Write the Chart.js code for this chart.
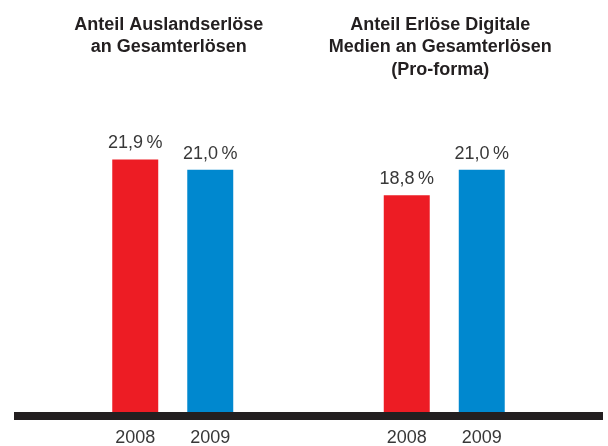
<!DOCTYPE html>
<html lang="de">

<head>
    <meta charset="UTF-8">
    <script src="https://cdn.jsdelivr.net/npm/chart.js"></script>
    <title>Anteil Erlöse</title>
    <style>
        body { margin: 0; background: #fff; }
        #box { position: relative; width: 608px; height: 446px; }
    </style>
</head>

<body>
    <div id="box"><canvas id="anteile"></canvas></div>

    <script>
        // panel titles (one per group)
        var panels = [
            ['Anteil Auslandserlöse', 'an Gesamterlösen'],
            ['Anteil Erlöse Digitale', 'Medien an Gesamterlösen', '(Pro-forma)']
        ];
        var years = ['2008', '2009'];
        // share in percent, per panel
        var values2008 = [21.9, 18.8];
        var values2009 = [21.0, 21.0];

        var ink = '#231f20';

        function fmt(v) {
            return v.toFixed(1).replace('.', ',') + '\u2009%';
        }

        // titles, value labels, year labels and the thick baseline
        var decor = {
            id: 'decor',
            afterDatasetsDraw: function (chart) {
                var ctx = chart.ctx;
                var x = chart.scales.x;
                var y0 = chart.scales.y.getPixelForValue(0);
                ctx.save();

                // baseline
                ctx.fillStyle = ink;
                ctx.fillRect(14, y0, chart.width - 19, 8);

                ctx.textAlign = 'center';
                ctx.textBaseline = 'middle';

                // titles
                ctx.font = 'bold 18px "Liberation Sans", Arial, sans-serif';
                ctx.fillStyle = ink;
                panels.forEach(function (lines, i) {
                    var cx = x.getPixelForValue(i) - 4;
                    lines.forEach(function (t, j) {
                        ctx.fillText(t, cx, 25 + j * 22.5);
                    });
                });

                // value and year labels
                ctx.font = '18px "Liberation Sans", Arial, sans-serif';
                ctx.fillStyle = '#383838';
                chart.data.datasets.forEach(function (ds, di) {
                    chart.getDatasetMeta(di).data.forEach(function (bar, i) {
                        ctx.fillText(fmt(ds.data[i]), bar.x, bar.y - 16);
                        ctx.fillText(ds.label, bar.x, y0 + 26);
                    });
                });
                ctx.restore();
            }
        };

        var context = document.getElementById('anteile').getContext('2d');
        var anteileChart = new Chart(context, {
            type: 'bar',
            data: {
                labels: panels.map(function (p) { return p.join(' '); }),
                datasets: [
                    {
                        label: years[0],
                        data: values2008,
                        backgroundColor: '#ed1c24',
                        barPercentage: 0.613,
                        categoryPercentage: 0.5525
                    },
                    {
                        label: years[1],
                        data: values2009,
                        backgroundColor: '#0088cf',
                        barPercentage: 0.613,
                        categoryPercentage: 0.5525
                    }
                ]
            },
            options: {
                responsive: true,
                maintainAspectRatio: false,
                animation: false,
                layout: {
                    padding: { top: 66, bottom: 34, left: 37, right: 28 }
                },
                plugins: {
                    legend: { display: false },
                    tooltip: { enabled: false }
                },
                scales: {
                    x: { display: false },
                    y: { display: false, min: 0, max: 30 }
                }
            },
            plugins: [decor]
        });
    </script>

</body>

</html>
